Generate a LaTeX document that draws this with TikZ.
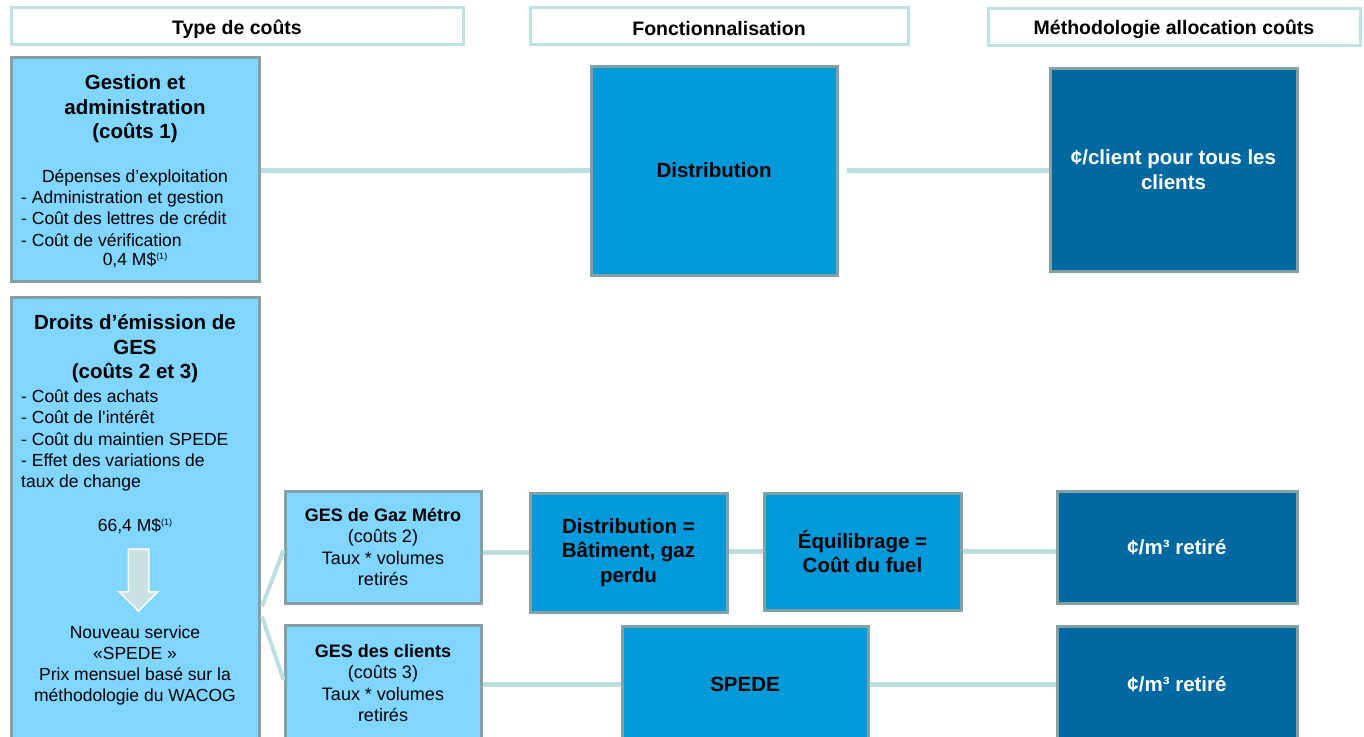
\documentclass[tikz,border=0pt]{standalone}
\usepackage{fontspec}
\setmainfont{Liberation Sans}
\usetikzlibrary{calc,shapes.arrows}
\definecolor{lightbox}{HTML}{80D6FF}
\definecolor{midbox}{HTML}{009ADA}
\definecolor{darkbox}{HTML}{0069A1}
\definecolor{boxline}{HTML}{84A0A3}
\definecolor{connc}{HTML}{BBDEE1}
\definecolor{hdrline}{HTML}{BDE3E6}
\definecolor{arrowfill}{HTML}{C9E1E2}
\newcommand{\supone}{{\fontsize{9pt}{9pt}\selectfont\raisebox{6pt}{(1)}}}
\tikzset{
  hdr/.style={draw=hdrline, line width=3pt, fill=white, inner sep=0pt},
  htxt/.style={inner sep=0pt, font=\fontsize{19.5pt}{23pt}\selectfont\bfseries},
  lbox/.style={draw=boxline, line width=3pt, fill=lightbox, inner sep=0pt},
  mbox/.style={draw=boxline, line width=3pt, fill=midbox, inner sep=0pt, align=center,
    font=\fontsize{20.5pt}{24.5pt}\selectfont\bfseries},
  dbox/.style={mbox, fill=darkbox, text=white},
  gbox/.style={lbox, align=center, font=\fontsize{18pt}{21.3pt}\selectfont},
  txt/.style={inner sep=0pt, align=center, font=\fontsize{17.5pt}{21pt}\selectfont},
  btxt/.style={inner sep=0pt, align=center, font=\fontsize{20.5pt}{24.5pt}\selectfont\bfseries},
  ltxt/.style={inner sep=0pt, align=left, anchor=west, font=\fontsize{17.5pt}{21.3pt}\selectfont},
  connector/.style={draw=connc, line width=5pt}
}
\begin{document}
\begin{tikzpicture}[x=1pt,y=-1pt]
\useasboundingbox (0,0) rectangle (1364,736);
\fill[white] (0,0) rectangle (1364,736);
\clip (0,0) rectangle (1364,736);

% headers
\node[hdr, minimum width=452, minimum height=37] (h1) at (237,25.5) {};
\node[hdr, minimum width=378, minimum height=37] (h2) at (719,25.5) {};
\node[hdr, minimum width=372, minimum height=37] (h3) at (1174,26.5) {};
\node[htxt] (h1t) at ($(h1)+(0,3.5)$) {Type de coûts};
\node[htxt] (h2t) at ($(h2)+(0,3.5)$) {Fonctionnalisation};
\node[htxt] (h3t) at ($(h3)+(0,2.5)$) {Méthodologie allocation coûts};

% Gestion et administration
\node[lbox, minimum width=248, minimum height=224] (ga) at (135,169) {};
\node[btxt] (gatitle) at (135,109) {Gestion et\\administration\\(coûts 1)};
\node[txt] (gadep) at (135,177.5) {Dépenses d'exploitation};
\node[ltxt] (galist) at (21,218.5) {- Administration et gestion\\- Coût des lettres de crédit\\- Coût de vérification};
\node[txt] (gamt) at (135,260) {0,4 M\$\supone};

% Droits d'emission
\node[lbox, minimum width=248, minimum height=444] (de) at (135,519) {};
\node[btxt] (detitle) at (135,349) {Droits d’émission de\\GES\\(coûts 2 et 3)};
\node[ltxt] (delist) at (21,440.5) {- Coût des achats\\- Coût de l'intérêt\\- Coût du maintien SPEDE\\- Effet des variations de\\taux de change};
\node[txt] (demt) at (135,526) {66,4 M\$\supone};
\node[single arrow, draw=white, line width=1.5pt, fill=arrowfill, rotate=-90,
  minimum height=62pt, inner sep=0pt, text height=19pt, text width=0pt,
  single arrow head extend=9pt, single arrow tip angle=90] (darr) at (138.5,575) {};
\node[txt] (denew) at (135,665) {Nouveau service\\«SPEDE »\\Prix mensuel basé sur la\\méthodologie du WACOG};

% GES boxes
\node[gbox, minimum width=196, minimum height=112] (gm) at (383,547)
  {\textbf{GES de Gaz Métro}\\(coûts 2)\\Taux * volumes\\retirés};
\node[gbox, minimum width=196, minimum height=116] (gc) at (383,683)
  {\textbf{GES des clients}\\(coûts 3)\\Taux * volumes\\retirés};

% Fonctionnalisation
\node[mbox, minimum width=246, minimum height=209] (dist) at (714,170.5) {Distribution};
\node[mbox, minimum width=197, minimum height=119] (dq) at (628.5,552.5) {Distribution =\\Bâtiment, gaz\\perdu};
\node[mbox, minimum width=197, minimum height=117] (eq) at (862.5,551.5) {Équilibrage =\\Coût du fuel};
\node[mbox, minimum width=246, minimum height=116] (sp) at (745,684) {SPEDE};

% Methodologie
\node[dbox, minimum width=247, minimum height=203] (cc) at (1173.5,169.5) {¢/client pour tous les\\clients};
\node[dbox, minimum width=240, minimum height=112] (cm1) at (1177,547) {¢/m³ retiré};
\node[dbox, minimum width=240, minimum height=116] (cm2) at (1177,684) {¢/m³ retiré};

% connectors
\draw[connector] (ga.east |- dist) -- (dist.west);
\draw[connector, shorten <=8pt] (dist.east) -- (dist.east -| cc.west);
\draw[connector, line width=4pt] ($(de.east |- gm.south)+(1.5,2)$) -- ($(gm.west)+(0,3)$);
\draw[connector, line width=4pt] ($(de.east |- gm.south)+(1.5,12)$) -- ($(gc.west)+(0,-3)$);
\draw[connector] (gm.east |- dq) -- (dq.west);
\draw[connector] (dq.east |- eq) -- (eq.west);
\draw[connector] (eq.east) -- (eq.east -| cm1.west);
\draw[connector] (gc.east |- sp) -- (sp.west);
\draw[connector] (sp.east) -- (sp.east -| cm2.west);
\end{tikzpicture}
\end{document}
